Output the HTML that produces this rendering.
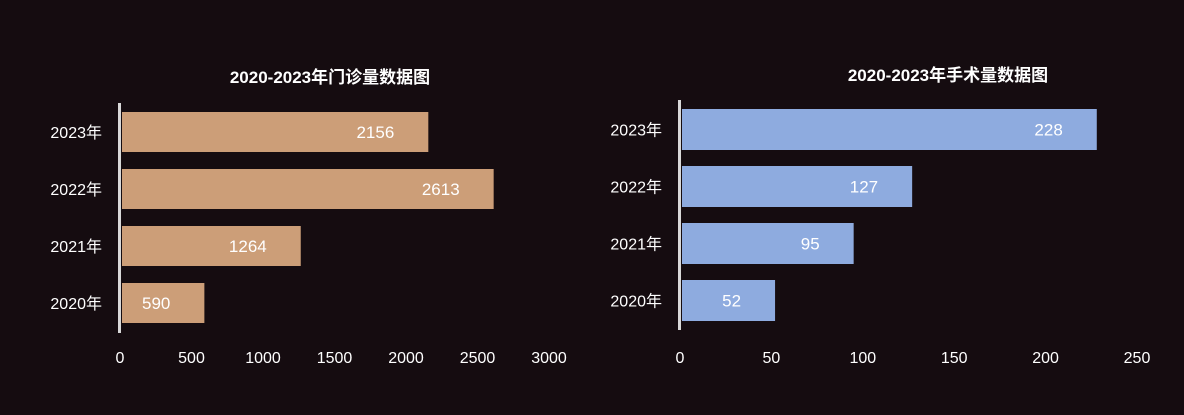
<!DOCTYPE html>
<html><head><meta charset="utf-8"><style>
body{margin:0;width:1184px;height:410px;background:#150c10;overflow:hidden}
svg text{font-family:"Liberation Sans","Noto Sans CJK SC",sans-serif}
</style></head><body>
<svg id="s" width="1184" height="410">
<text x="330" y="83" fill="#fff" font-size="17" font-weight="bold" text-anchor="middle">2020-2023年门诊量数据图</text>
<text x="948" y="81" fill="#fff" font-size="17" font-weight="bold" text-anchor="middle">2020-2023年手术量数据图</text>
</svg>
<script>
const categories=["2023年","2022年","2021年","2020年"];
const visitValues=[2156,2613,1264,590];
const surgeryValues=[228,127,95,52];
const visitTicks=[0,500,1000,1500,2000,2500,3000];
const surgeryTicks=[0,50,100,150,200,250];
const svg=document.getElementById('s');
const NS='http://www.w3.org/2000/svg';
function mk(t,a){const e=document.createElementNS(NS,t);for(const k in a)e.setAttribute(k,a[k]);svg.appendChild(e);return e;}
function chart(cfg){
  const sx=v=>cfg.x0+(v/cfg.max)*cfg.w;
  cfg.vals.forEach((v,i)=>{
    const y=cfg.top+i*cfg.step;
    const r=mk('rect',{x:cfg.x0+2,y:y,width:sx(v)-cfg.x0-2,height:cfg.bh,fill:cfg.color});
    
    
    const t=mk('text',{x:sx(v)-34,y:y+cfg.bh/2+6,fill:'#fff','font-size':17,'text-anchor':'end'});
    t.textContent=v;
    
    
    const c=mk('text',{x:cfg.x0-18,y:y+cfg.bh/2+6,fill:'#fff','font-size':16,'text-anchor':'end'});
    c.textContent=categories[i];
    
    
  });
  const ax=mk('rect',{x:cfg.x0-2,y:cfg.top-9,width:3,height:cfg.step*4+2,fill:'#d8d8d8'});
  
  
  cfg.ticks.forEach(v=>{
    const t=mk('text',{x:sx(v),y:363,fill:'#fff','font-size':16,'text-anchor':'middle'});
    t.textContent=v;
    
    
  });
}
chart({id:'visits',vals:visitValues,ticks:visitTicks,x0:120,w:429,max:3000,top:112,step:57,bh:40,color:'#cc9e78'});
chart({id:'surgery',vals:surgeryValues,ticks:surgeryTicks,x0:680,w:457,max:250,top:109,step:57,bh:41,color:'#8eabdf'});
</script>
</body></html>
